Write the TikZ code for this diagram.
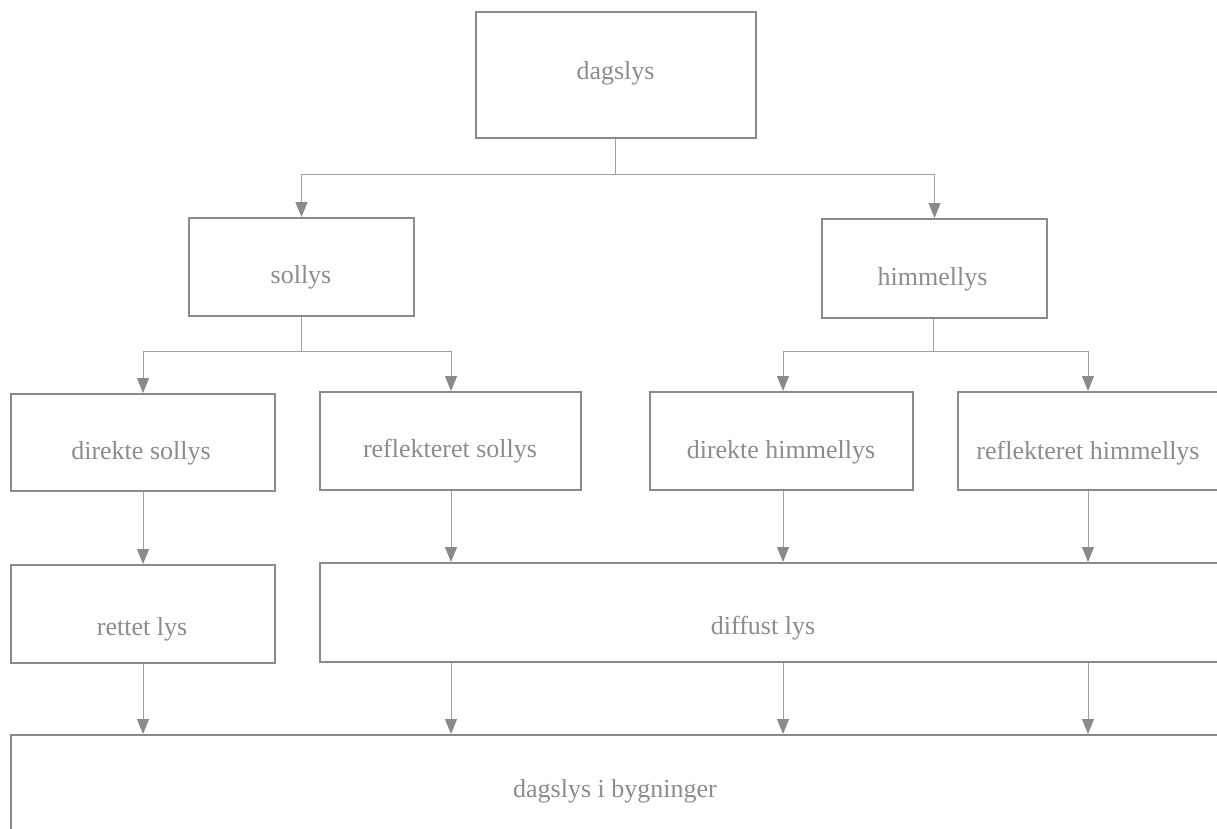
\documentclass[tikz,border=0pt]{standalone}
\usepackage{fontspec}
\setmainfont{Liberation Serif}
\usetikzlibrary{arrows.meta}
\definecolor{boxc}{HTML}{8A8A8A}
\definecolor{connc}{HTML}{A0A0A0}
\definecolor{txtc}{HTML}{8C8C8C}
\begin{document}
\begin{tikzpicture}[x=1pt,y=-1pt,
  bx/.style={draw=boxc,line width=2pt,anchor=north west,inner sep=0pt,minimum width=#1},
  lbl/.style={anchor=base,text=txtc,inner sep=0pt,font=\fontsize{26}{30}\selectfont},
  conn/.style={draw=connc,line width=1pt,-{Triangle[width=12pt,length=15pt,fill=boxc,color=boxc]}},
  link/.style={draw=connc,line width=1pt}]
\useasboundingbox (0,0) rectangle (1217,828);
\clip (0,0) rectangle (1217,828);
% boxes
\node[bx=280pt,minimum height=126pt] (dagslys) at (475,11) {};
\node[bx=225pt,minimum height=98pt] (sollys) at (188,217) {};
\node[bx=225pt,minimum height=99pt] (himmel) at (821,218) {};
\node[bx=264pt,minimum height=97pt] (dsol) at (10,393) {};
\node[bx=261pt,minimum height=98pt] (rsol) at (319,391) {};
\node[bx=263pt,minimum height=98pt] (dhim) at (649,391) {};
\node[bx=263pt,minimum height=98pt] (rhim) at (957,391) {};
\node[bx=264pt,minimum height=98pt] (rettet) at (10,564) {};
\node[bx=901pt,minimum height=99pt] (diffust) at (319,562) {};
\node[bx=1210pt,minimum height=120pt] (bygn) at (10,734) {};
% texts
\node[lbl] (t1) at (615.5,79) {dagslys};
\node[lbl] (t2) at (301,283) {sollys};
\node[lbl] (t3) at (932.5,285) {himmellys};
\node[lbl] (t4) at (141,459) {direkte sollys};
\node[lbl] (t5) at (450,457) {reflekteret sollys};
\node[lbl] (t6) at (781,458) {direkte himmellys};
\node[lbl] (t7) at (1088,459) {reflekteret himmellys};
\node[lbl] (t8) at (142,635) {rettet lys};
\node[lbl] (t9) at (763,634) {diffust lys};
\node[lbl] (t10) at (615,797) {dagslys i bygninger};
% connectors level 1
\coordinate (j1) at (615,174);
\draw[link] (dagslys.south -| j1) -- (j1);
\draw[conn] (j1) -| (sollys.north);
\draw[conn] (j1) -| (himmel.north);
% sollys branch
\coordinate (j2) at (301,351);
\draw[link] (sollys.south -| j2) -- (j2);
\draw[conn] (j2) -| (dsol.north -| 143,0);
\draw[conn] (j2) -| (rsol.north -| 451,0);
% himmellys branch
\coordinate (j3) at (933,351);
\draw[link] (himmel.south -| j3) -- (j3);
\draw[conn] (j3) -| (dhim.north -| 783,0);
\draw[conn] (j3) -| (rhim.north -| 1088,0);
% row 2 to row 3
\draw[conn] (dsol.south -| 143,0) -- (rettet.north -| 143,0);
\draw[conn] (rsol.south -| 451,0) -- (diffust.north -| 451,0);
\draw[conn] (dhim.south -| 783,0) -- (diffust.north -| 783,0);
\draw[conn] (rhim.south -| 1088,0) -- (diffust.north -| 1088,0);
% row 3 to bottom
\draw[conn] (rettet.south -| 143,0) -- (bygn.north -| 143,0);
\draw[conn] (diffust.south -| 451,0) -- (bygn.north -| 451,0);
\draw[conn] (diffust.south -| 783,0) -- (bygn.north -| 783,0);
\draw[conn] (diffust.south -| 1088,0) -- (bygn.north -| 1088,0);
\end{tikzpicture}
\end{document}
